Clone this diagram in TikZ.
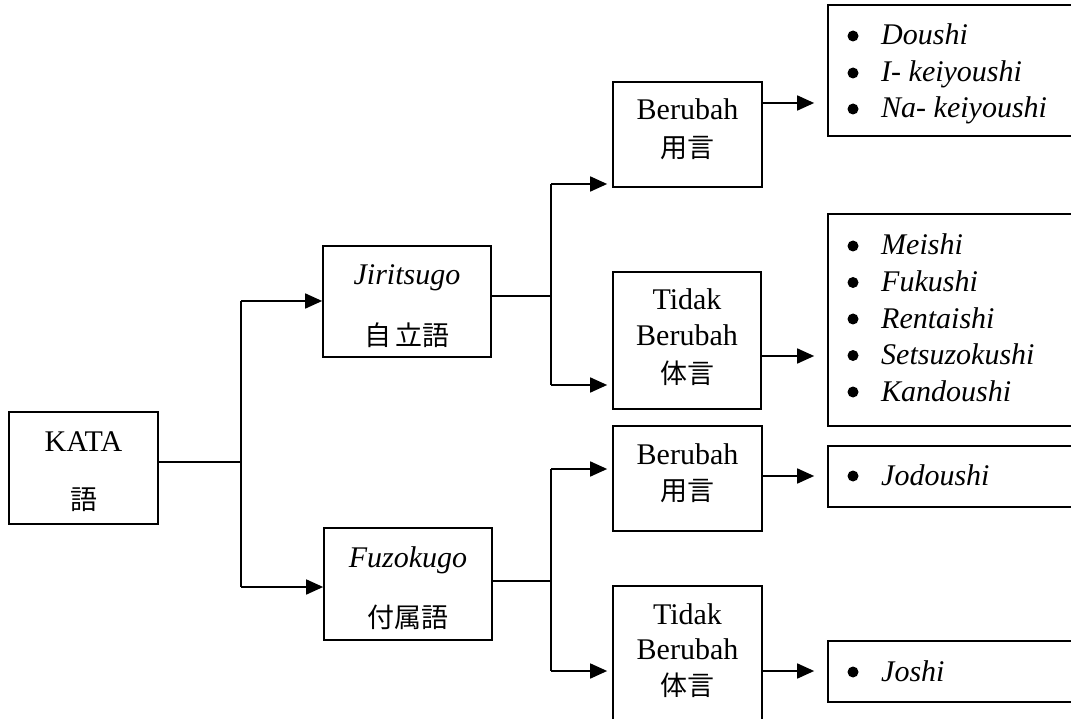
\documentclass[tikz,border=0pt]{standalone}
\usepackage{fontspec}
\setmainfont{Liberation Serif}
\newfontfamily\jp{Noto Sans CJK JP}
\usetikzlibrary{arrows.meta}
\tikzset{
  box/.style={draw, line width=1.7pt, inner sep=0pt},
  lat/.style={anchor=base, inner sep=0pt, font=\fontsize{30}{35}\selectfont},
  kan/.style={anchor=center, inner sep=0pt, font=\jp\fontsize{27}{32}\selectfont},
  itm/.style={anchor=base west, inner sep=0pt, font=\fontsize{30}{35}\selectfont\itshape},
  bul/.style={circle, fill, inner sep=0pt, minimum size=11pt},
  ln/.style={line width=1.7pt},
  arr/.style={line width=1.7pt, -{Triangle[length=17pt,width=15pt]}},
}
\begin{document}
\begin{tikzpicture}[x=1pt,y=-1pt]
\useasboundingbox (0,0) rectangle (1071,719);
\clip (0,0) rectangle (1071,719);
% boxes
\node[box, minimum width=149pt, minimum height=112pt] (kata) at (83.5,468) {};
\node[box, minimum width=168pt, minimum height=111pt] (jir) at (407,301.5) {};
\node[box, minimum width=168pt, minimum height=112pt] (fuz) at (408,584) {};
\node[box, minimum width=149pt, minimum height=105pt] (b1) at (687.5,134.5) {};
\node[box, minimum width=148pt, minimum height=137pt] (t1) at (687,340.5) {};
\node[box, minimum width=149pt, minimum height=105pt] (b2) at (687.5,478.5) {};
\node[box, minimum width=149pt, minimum height=144pt] (t2) at (687.5,658) {};
\node[box, minimum width=252pt, minimum height=131pt] (r1) at (954,70.5) {};
\node[box, minimum width=252pt, minimum height=212pt] (r2) at (954,320) {};
\node[box, minimum width=252pt, minimum height=61pt] (r3) at (954,476.5) {};
\node[box, minimum width=252pt, minimum height=61pt] (r4) at (954,671.5) {};
% texts
\node[lat] (kata1) at (83.5,451) {KATA};
\node[kan] (kata2) at (83.5,500) {語};
\node[lat, font=\fontsize{30}{35}\selectfont\itshape] (jir1) at (407,285) {Jiritsugo};
\node[kan] (jir2) at (407,335) {自\,立語};
\node[lat, font=\fontsize{30}{35}\selectfont\itshape] (fuz1) at (408,567) {Fuzokugo};
\node[kan] (fuz2) at (408,617) {付属語};
\node[lat] (b1a) at (687.5,120) {Berubah};
\node[kan] (b1b) at (687.5,148) {用言};
\node[lat] (t1a) at (687,310) {Tidak};
\node[lat] (t1b) at (687,345) {Berubah};
\node[kan] (t1c) at (687,373) {体言};
\node[lat] (b2a) at (687.5,464) {Berubah};
\node[kan] (b2b) at (687.5,491) {用言};
\node[lat] (t2a) at (687.5,624) {Tidak};
\node[lat] (t2b) at (687.5,659) {Berubah};
\node[kan] (t2c) at (687.5,685) {体言};
% list items
\foreach \y/\t [count=\i] in {45/Doushi, 82/I- keiyoushi, 118/Na- keiyoushi}{
  \node[bul] (r1b\i) at (853,\y-9) {};
  \node[itm] (r1t\i) at (881,\y) {\t};
}
\foreach \y/\t [count=\i] in {255/Meishi, 291.5/Fukushi, 328/Rentaishi, 364.5/Setsuzokushi, 401/Kandoushi}{
  \node[bul] (r2b\i) at (853,\y-9) {};
  \node[itm] (r2t\i) at (881,\y) {\t};
}
\node[bul] (r3b) at (853,476) {};
\node[itm] (r3t) at (881,485) {Jodoushi};
\node[bul] (r4b) at (853,672) {};
\node[itm] (r4t) at (881,681) {Joshi};
% connectors
\coordinate (s0) at (241,462);
\coordinate (s0a) at (241,301);
\coordinate (s0b) at (241,587);
\draw[ln] (kata.east |- s0) -- (s0);
\draw[ln] (s0a) -- (s0b);
\draw[arr] (s0a) -- (jir.west |- s0a);
\draw[arr] (s0b) -- (fuz.west |- s0b);
\coordinate (s1) at (551,296);
\coordinate (s1a) at (551,184);
\coordinate (s1b) at (551,385);
\draw[ln] (jir.east |- s1) -- (s1);
\draw[ln] (s1a) -- (s1b);
\draw[arr, shorten >=5pt] (s1a) -- (b1.west |- s1a);
\draw[arr, shorten >=5pt] (s1b) -- (t1.west |- s1b);
\coordinate (s2) at (551,581);
\coordinate (s2a) at (551,469);
\coordinate (s2b) at (551,671);
\draw[ln] (fuz.east |- s2) -- (s2);
\draw[ln] (s2a) -- (s2b);
\draw[arr, shorten >=5pt] (s2a) -- (b2.west |- s2a);
\draw[arr, shorten >=5pt] (s2b) -- (t2.west |- s2b);
% outgoing arrows
\draw[arr, shorten >=13pt] (b1.east |- 0,103) -- (r1.west |- 0,103);
\draw[arr, shorten >=13pt] (t1.east |- 0,356) -- (r2.west |- 0,356);
\draw[arr, shorten >=13pt] (b2.east |- 0,476) -- (r3.west |- 0,476);
\draw[arr, shorten >=13pt] (t2.east |- 0,671) -- (r4.west |- 0,671);
\end{tikzpicture}
\end{document}
